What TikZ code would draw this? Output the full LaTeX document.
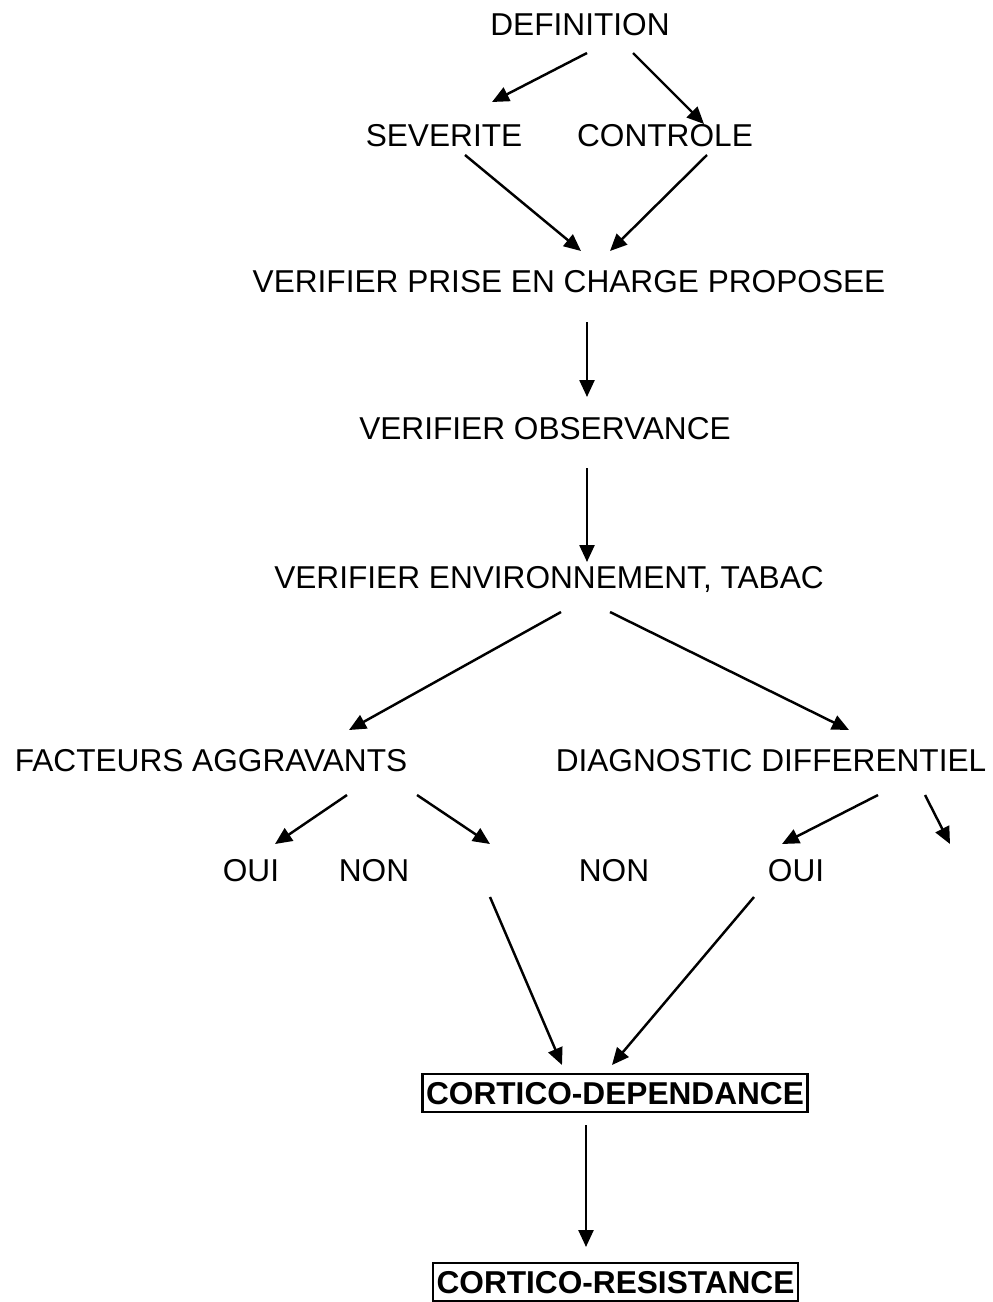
\documentclass[tikz,border=0pt]{standalone}
\usepackage{fontspec}
\setmainfont{Liberation Sans}
\usetikzlibrary{arrows.meta}
\begin{document}
\begin{tikzpicture}[x=0.02cm, y=-0.02cm, >={Triangle[length=0.34cm,width=0.3cm]}, line width=1.4pt,
  lbl/.style={inner sep=0pt, font=\fontsize{18}{21}\selectfont, text height=12.9pt, text depth=0pt},
  result/.style={lbl, draw, line width=1.3pt, font=\fontsize{18}{21}\selectfont\bfseries, inner xsep=2pt, minimum height=0.76cm}]
\useasboundingbox (0,0) rectangle (993,1302);
\node[lbl] (def) at (580,24) {DEFINITION};
\node[lbl] (sev) at (444,135) {SEVERITE};
\node[lbl] (ctl) at (665,135) {CONTROLE};
\node[lbl] (prise) at (569,281) {VERIFIER PRISE EN CHARGE PROPOSEE};
\node[lbl] (obs) at (545,428) {VERIFIER OBSERVANCE};
\node[lbl] (env) at (549,577) {VERIFIER ENVIRONNEMENT, TABAC};
\node[lbl] (fact) at (211,760) {FACTEURS AGGRAVANTS};
\node[lbl] (diag) at (771,760) {DIAGNOSTIC DIFFERENTIEL};
\node[lbl] (oui1) at (251,870) {OUI};
\node[lbl] (non1) at (374,870) {NON};
\node[lbl] (non2) at (614,870) {NON};
\node[lbl] (oui2) at (796,870) {OUI};
\node[result] (dep) at (615,1093) {CORTICO-DEPENDANCE};
\node[result] (res) at (615.5,1282) {CORTICO-RESISTANCE};
% arrow ends
\coordinate (def-a) at (587,53);   \coordinate (sev-t) at (492,102);
\coordinate (def-b) at (633,53);   \coordinate (ctl-t) at (704,124);
\coordinate (sev-b) at (465,155);  \coordinate (prise-l) at (581,251);
\coordinate (ctl-b) at (707,155);  \coordinate (prise-r) at (610,251);
\coordinate (prise-b) at (587,322); \coordinate (obs-t) at (587,397);
\coordinate (obs-b) at (587,468);  \coordinate (env-t) at (587,562);
\coordinate (env-a) at (561,612);  \coordinate (fact-t) at (349,730);
\coordinate (env-b) at (610,612);  \coordinate (diag-t) at (849,730);
\coordinate (fact-a) at (347,795); \coordinate (oui1-t) at (275,844);
\coordinate (fact-b) at (417,795); \coordinate (mid-t) at (490,844);
\coordinate (diag-a) at (878,795); \coordinate (oui2-t) at (782,844);
\coordinate (diag-b) at (925,795); \coordinate (side-t) at (950,844);
\coordinate (mid-b) at (490,897);  \coordinate (dep-l) at (562,1065);
\coordinate (oui2-b) at (754,897); \coordinate (dep-r) at (612,1065);
\coordinate (dep-b) at (586,1125); \coordinate (res-t) at (586,1247);
\foreach \a/\b in {def-a/sev-t, def-b/ctl-t, sev-b/prise-l, ctl-b/prise-r, prise-b/obs-t, obs-b/env-t,
  env-a/fact-t, env-b/diag-t, fact-a/oui1-t, fact-b/mid-t, diag-a/oui2-t, diag-b/side-t,
  mid-b/dep-l, oui2-b/dep-r, dep-b/res-t}
  \draw[->] (\a) -- (\b);
\end{tikzpicture}
\end{document}
